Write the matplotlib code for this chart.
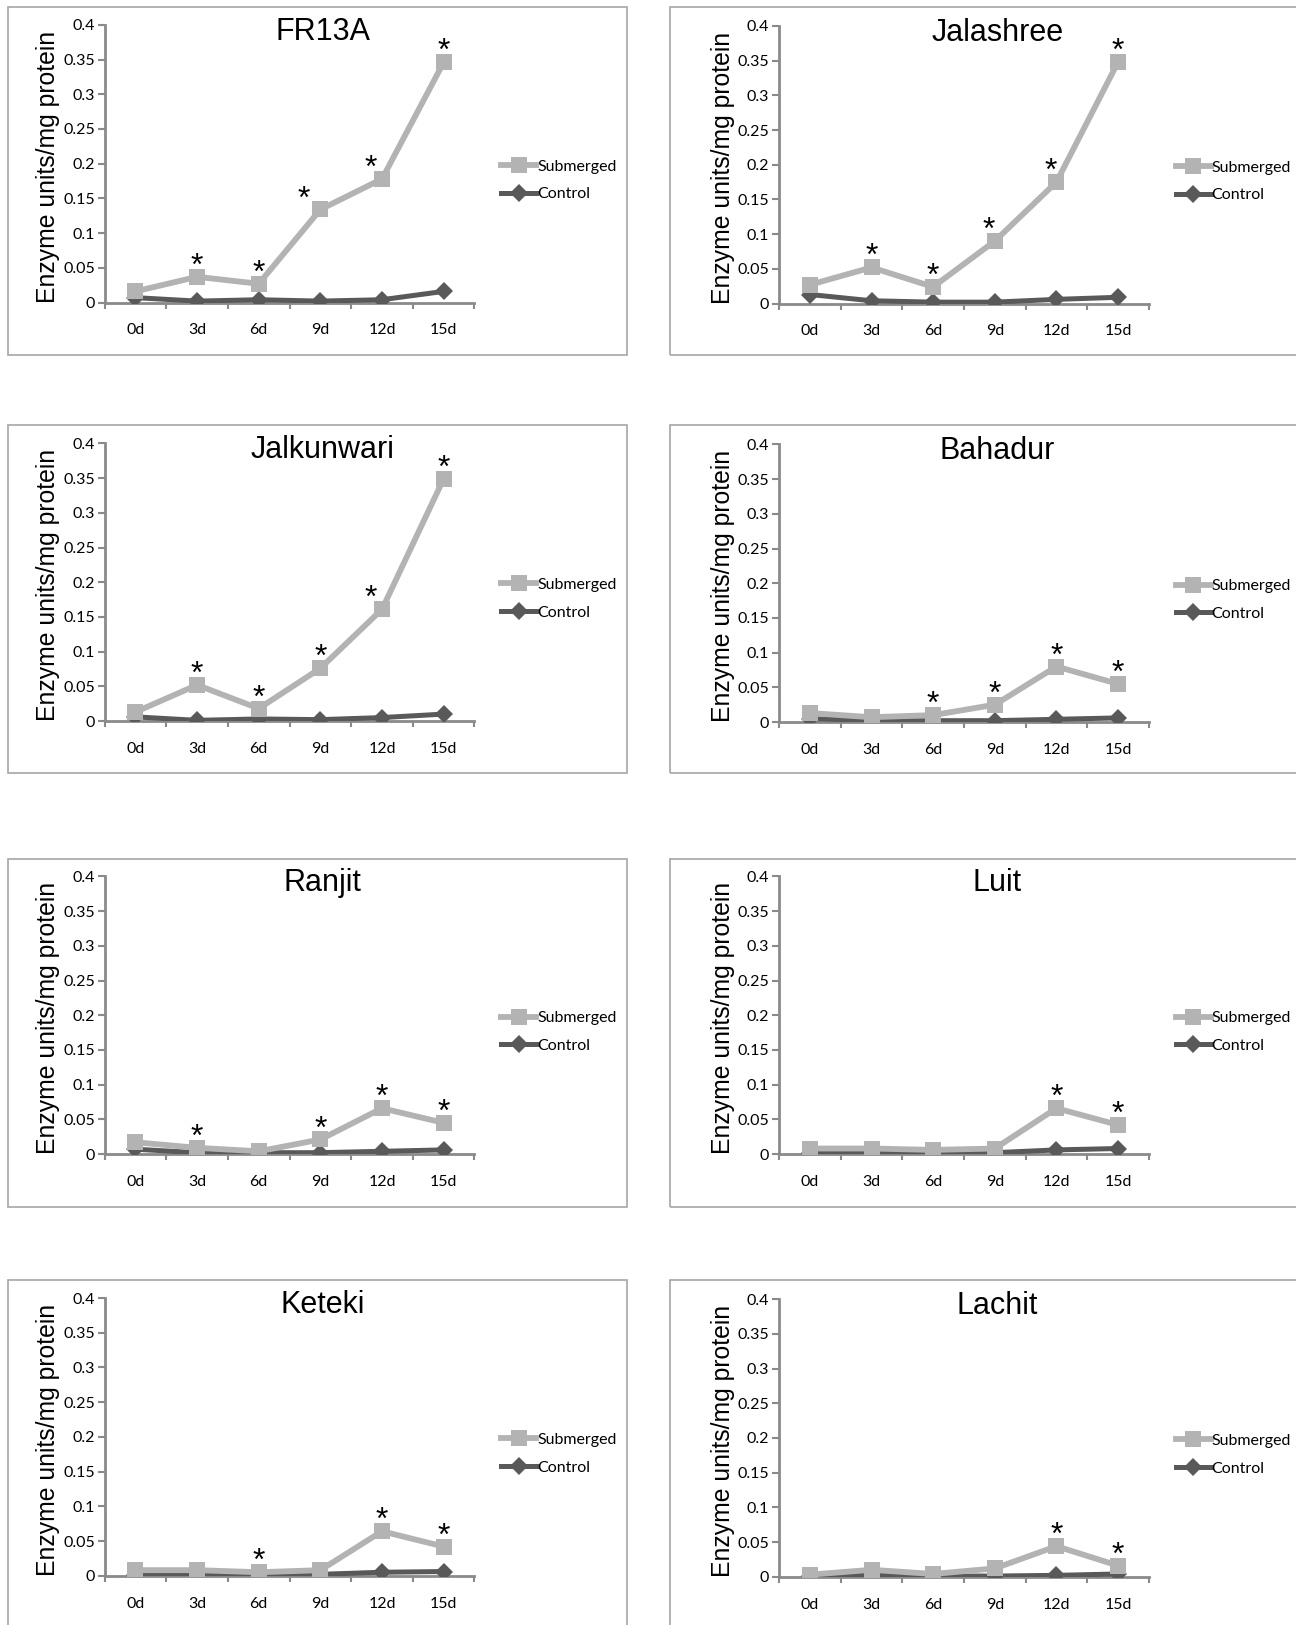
import matplotlib
matplotlib.use("Agg")
import matplotlib.pyplot as plt
from matplotlib.patches import Rectangle
from matplotlib.lines import Line2D

# ---------------- data ----------------
days = ["0d", "3d", "6d", "9d", "12d", "15d"]
names = ["FR13A", "Jalashree", "Jalkunwari", "Bahadur", "Ranjit", "Luit", "Keteki", "Lachit"]

sub_FR13A      = [0.016, 0.037, 0.027, 0.134, 0.178, 0.346]
ctl_FR13A      = [0.007, 0.002, 0.004, 0.002, 0.004, 0.016]
sub_Jalashree  = [0.027, 0.052, 0.024, 0.090, 0.175, 0.348]
ctl_Jalashree  = [0.013, 0.004, 0.002, 0.002, 0.006, 0.009]
sub_Jalkunwari = [0.013, 0.052, 0.018, 0.076, 0.161, 0.349]
ctl_Jalkunwari = [0.006, 0.001, 0.003, 0.002, 0.005, 0.010]
sub_Bahadur    = [0.013, 0.007, 0.010, 0.025, 0.080, 0.055]
ctl_Bahadur    = [0.005, 0.002, 0.002, 0.002, 0.004, 0.006]
sub_Ranjit     = [0.017, 0.009, 0.004, 0.021, 0.066, 0.045]
ctl_Ranjit     = [0.007, 0.002, 0.002, 0.002, 0.004, 0.006]
sub_Luit       = [0.008, 0.008, 0.006, 0.008, 0.066, 0.042]
ctl_Luit       = [0.002, 0.002, 0.002, 0.002, 0.006, 0.008]
sub_Keteki     = [0.008, 0.008, 0.005, 0.008, 0.064, 0.042]
ctl_Keteki     = [0.001, 0.001, 0.001, 0.002, 0.005, 0.006]
sub_Lachit     = [0.003, 0.010, 0.004, 0.012, 0.044, 0.016]
ctl_Lachit     = [0.001, 0.002, 0.001, 0.001, 0.002, 0.004]

# significance asterisks (indices of days)
stars_FR13A      = [1, 2, 3, 4, 5]
stars_Jalashree  = [1, 2, 3, 4, 5]
stars_Jalkunwari = [1, 2, 3, 4, 5]
stars_Bahadur    = [2, 3, 4, 5]
stars_Ranjit     = [1, 3, 4, 5]
stars_Luit       = [4, 5]
stars_Keteki     = [2, 4, 5]
stars_Lachit     = [4, 5]

submerged = [sub_FR13A, sub_Jalashree, sub_Jalkunwari, sub_Bahadur,
             sub_Ranjit, sub_Luit, sub_Keteki, sub_Lachit]
control = [ctl_FR13A, ctl_Jalashree, ctl_Jalkunwari, ctl_Bahadur,
           ctl_Ranjit, ctl_Luit, ctl_Keteki, ctl_Lachit]
stars = [stars_FR13A, stars_Jalashree, stars_Jalkunwari, stars_Bahadur,
         stars_Ranjit, stars_Luit, stars_Keteki, stars_Lachit]

# small horizontal nudges of asterisks (category units), as placed in the original
star_nudge = {0: {3: -0.27, 4: -0.18}, 1: {3: -0.1, 4: -0.1}, 2: {4: -0.18}}

# ---------------- style ----------------
W, H = 1296, 1625
S = W / 1251.0  # reference-view to full pixel scale
SUB_C = "#b3b3b3"
CTL_C = "#595959"
AX_C = "#8a8a8a"
BOX_C = "#a6a6a6"
TICK_FONT = "Lato"
TXT_FONT = "Liberation Sans"

fig = plt.figure(figsize=(W / 100, H / 100), dpi=100)
fig.patch.set_facecolor("white")

ax_left = [101, 752]
ax_top = [[24, 25], [428, 429], [846, 846], [1253, 1254]]
box_left = [8, 647]
box_right = [605, 1270]
box_top = [7, 410, 829, 1236]
box_bot = [343, 746, 1165, 1700]
AXW, AXH = 357, 268

for i, name in enumerate(names):
    r, c = divmod(i, 2)
    # panel border
    bx0 = box_left[c] * S
    bx1 = box_right[c] * S
    by0 = box_top[r] * S
    by1 = box_bot[r] * S
    fig.patches.append(Rectangle((bx0 / W, 1 - by1 / H), (bx1 - bx0) / W, (by1 - by0) / H,
                                 transform=fig.transFigure, fill=False,
                                 edgecolor=BOX_C, linewidth=1.2, zorder=0))

    l = ax_left[c] * S
    t = ax_top[r][c] * S
    ax = fig.add_axes([l / W, 1 - (t + AXH * S) / H, AXW * S / W, AXH * S / H])
    x = list(range(len(days)))
    ax.plot(x, control[i], color=CTL_C, lw=3.6, marker="D", ms=9,
            markeredgewidth=0, label="Control", zorder=3, solid_joinstyle="round")
    ax.plot(x, submerged[i], color=SUB_C, lw=4.2, marker="s", ms=11,
            markeredgewidth=0, label="Submerged", zorder=4, solid_joinstyle="round")

    ax.set_xlim(-0.5, len(days) - 0.5)
    ax.set_ylim(0, 0.4)
    for s in ["top", "right"]:
        ax.spines[s].set_visible(False)
    for s in ["left", "bottom"]:
        ax.spines[s].set_color(AX_C)
        ax.spines[s].set_linewidth(2.0)
    ax.spines["bottom"].set_zorder(2)

    ax.set_xticks(x)
    ax.set_xticklabels(days, fontsize=11.5, family=TICK_FONT)
    ax.set_xticks([k - 0.5 for k in range(len(days) + 1)], minor=True)
    ax.tick_params(axis="x", which="major", length=0, pad=15)
    ax.tick_params(axis="x", which="minor", length=4, width=1.5, color=AX_C, direction="out")
    yt = [0, 0.05, 0.1, 0.15, 0.2, 0.25, 0.3, 0.35, 0.4]
    ax.set_yticks(yt)
    ax.set_yticklabels(["0", "0.05", "0.1", "0.15", "0.2", "0.25", "0.3", "0.35", "0.4"],
                       fontsize=11.5, family=TICK_FONT)
    ax.tick_params(axis="y", length=5, width=1.5, color=AX_C, pad=2)

    ax.text(-0.152, 0.49, "Enzyme units/mg protein", transform=ax.transAxes,
            rotation=90, ha="center", va="center", fontsize=17.8, family=TXT_FONT)
    ax.text(0.59, 0.975, name, transform=ax.transAxes, ha="center", va="center",
            fontsize=22, family=TXT_FONT)

    for k in stars[i]:
        dx = star_nudge.get(i, {}).get(k, 0.0)
        ax.annotate("*", xy=(k + dx, submerged[i][k]), xytext=(0, 1.5),
                    textcoords="offset points", ha="center", va="baseline",
                    fontsize=23, family=TXT_FONT, zorder=5)

    handles = [Line2D([], [], color=SUB_C, lw=4.2, marker="s", ms=11, markeredgewidth=0),
               Line2D([], [], color=CTL_C, lw=3.6, marker="D", ms=9, markeredgewidth=0)]
    leg = ax.legend(handles, ["Submerged", "Control"], loc="center left",
                    bbox_to_anchor=(1.055, 0.44), frameon=False,
                    prop={"family": TICK_FONT, "size": 11.5}, handlelength=2.2,
                    handletextpad=0.05, labelspacing=0.85, borderaxespad=0)

fig.savefig("out.png", dpi=100, facecolor="white")
